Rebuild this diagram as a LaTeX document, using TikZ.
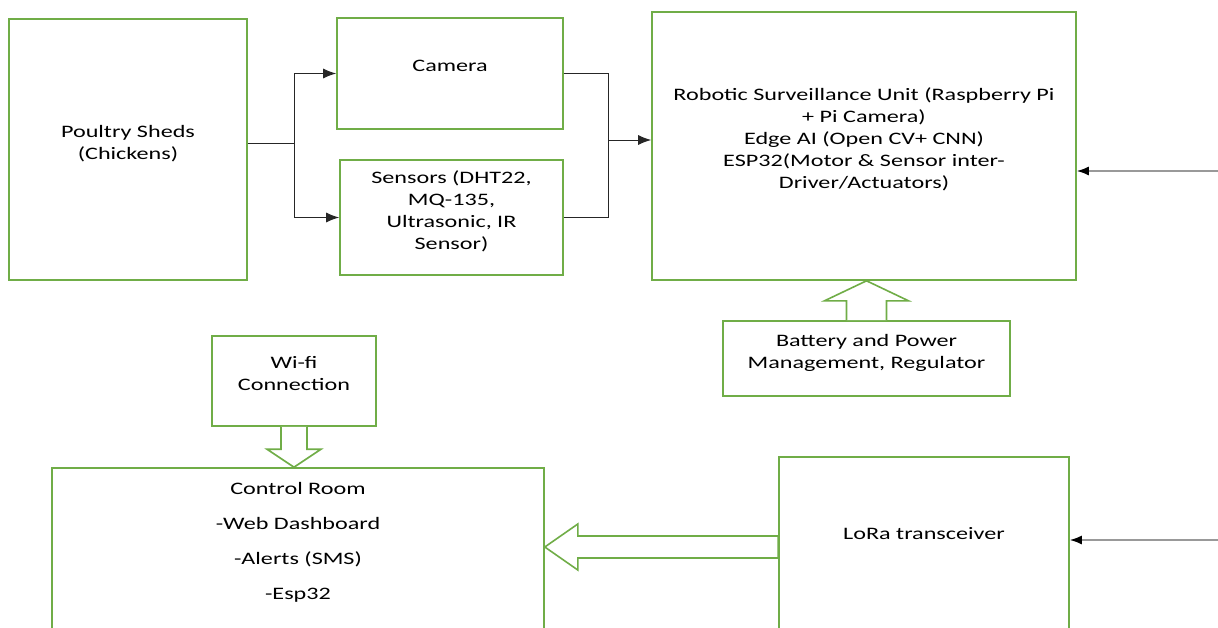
\documentclass[tikz,border=0pt]{standalone}
\usepackage{fontspec}
\setmainfont{Carlito}[FakeStretch=1.38]
\usetikzlibrary{arrows.meta,calc}
\definecolor{boxgreen}{RGB}{112,173,71}
\tikzset{
  box/.style={draw=boxgreen,line width=1.6pt,align=center,inner sep=0pt,
    font=\fontsize{17.5}{22}\selectfont,text depth=15pt},
  lowbox/.style={box,text depth=27pt},
  arr/.style={draw=black!85,line width=1pt,-{Latex[length=13pt,width=10pt]}},
  link/.style={draw=black!85,line width=1pt},
  feed/.style={draw=gray!80,line width=1.5pt,-{Latex[length=12pt,width=9pt,color=black]}},
  hollow/.style={draw=boxgreen,line width=1.6pt,fill=white,line join=miter}
}
\begin{document}
\begin{tikzpicture}[x=1pt,y=-1pt]
        \clip (0,0) rectangle (1218,627);
        \fill[white] (0,0) rectangle (1218,627);
        % blocks
        \node[box,minimum width=238,minimum height=261] (shed) at (128,149.5) {Poultry Sheds\\(Chickens)};
        \node[box,minimum width=226,minimum height=111] (cam) at (450,73.5) {Camera};
        \node[box,minimum width=223,minimum height=115] (sens) at (451.5,217.5) {Sensors (DHT22,\\MQ-135,\\Ultrasonic, IR\\Sensor)};
        \node[box,minimum width=424,minimum height=268] (robot) at (864,146) {Robotic Surveillance Unit (Raspberry Pi\\+ Pi Camera)\\Edge AI (Open CV+ CNN)\\ESP32(Motor \& Sensor inter-\\Driver/Actuators)};
        \node[box,minimum width=287,minimum height=75] (pwr) at (866.5,358.5) {Battery and Power\\Management, Regulator};
        \node[box,minimum width=164,minimum height=90] (wifi) at (294,381) {Wi-fi\\Connection};
        \node[lowbox,minimum width=492,minimum height=172] (ctrl) at (298,554) {Control Room\\[13pt]-Web Dashboard\\[13pt]-Alerts (SMS)\\[13pt]-Esp32};
        \node[lowbox,minimum width=290,minimum height=180] (lora) at (924,547) {LoRa transceiver};
        % thin connectors
        \coordinate (split) at (294,143);
        \coordinate (merge) at (608,140);
        \draw[link] (shed.east |- split) -- (split);
        \draw[arr] (split) |- (cam.west);
        \draw[arr] (split) |- (sens.west);
        \draw[link] (cam.east) -| (merge);
        \draw[link] (sens.east) -| (merge);
        \draw[arr] (merge) -- (merge -| robot.west);
        \coordinate (inR) at (1218,171);
        \coordinate (inL) at (1218,540);
        \draw[feed] (inR) -- (inR -| robot.east);
        \draw[feed] (inL) -- (inL -| lora.east);
        % block arrows
        \draw[hollow] ($(pwr.north)+(-20,0)$) -- ($(pwr.north |- robot.south)+(-20,20)$) -- ++(-22,0)
          -- (pwr.north |- robot.south) -- ++(42,20) -- ++(-22,0) -- ($(pwr.north)+(20,0)$);
        \draw[hollow] ($(wifi.south)+(-13,0)$) -- ($(wifi.south |- ctrl.north)+(-13,-18)$) -- ++(-14,0)
          -- (wifi.south |- ctrl.north) -- ++(27,-18) -- ++(-14,0) -- ($(wifi.south)+(13,0)$);
        \draw[hollow] ($(lora.west)+(0,-11)$) -- ($(ctrl.east |- lora.west)+(33,-11)$) -- ++(0,-12)
          -- (ctrl.east |- lora.west) -- ++(33,23) -- ++(0,-12) -- ($(lora.west)+(0,11)$) -- cycle;
\end{tikzpicture}
\end{document}
